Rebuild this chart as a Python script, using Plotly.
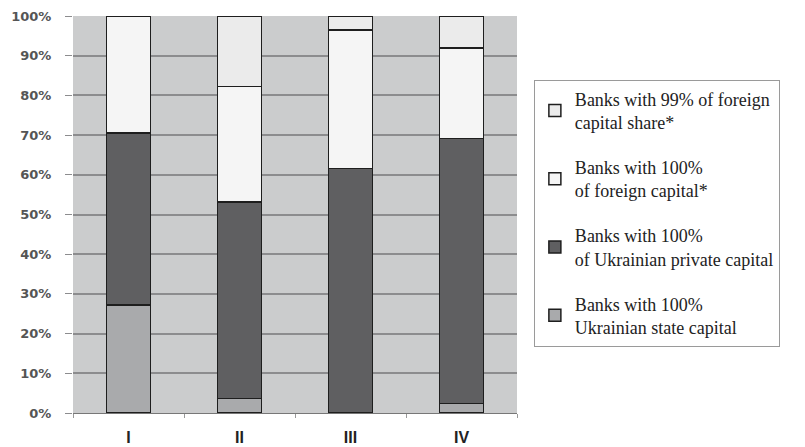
import plotly.graph_objects as go

categories = ["I", "II", "III", "IV"]
state = [27.2, 3.7, 0.0, 2.4]
private = [43.3, 49.5, 61.6, 66.8]
foreign100 = [29.5, 29.0, 34.9, 22.7]
foreign99 = [0.0, 17.8, 3.5, 8.1]

names = [
    "Banks with 100%<br>Ukrainian state capital",
    "Banks with 100%<br>of Ukrainian private capital",
    "Banks with 100%<br>of foreign capital*",
    "Banks with 99% of foreign<br>capital share*",
]
colors = ["#a9aaac", "#5f5f61", "#f5f5f5", "#ebebeb"]
series = [state, private, foreign100, foreign99]

fig = go.Figure()
for i, (nm, col, vals) in enumerate(zip(names, colors, series)):
    fig.add_trace(go.Bar(
        x=categories, y=vals, name=nm, legendgroup=str(i), legendrank=10 - i,
        marker=dict(color=col, line=dict(color="#1e1e1e", width=1.5)),
        width=0.4,
    ))

fig.update_layout(
    barmode="stack",
    width=805, height=447,
    margin=dict(l=65, r=296, t=8, b=42),
    paper_bgcolor="white",
    plot_bgcolor="#cbcccd",
    showlegend=True,
    legend=dict(
        traceorder="grouped", x=1.038, xanchor="left", y=0.84, yanchor="top",
        bordercolor="#9a9a9a", borderwidth=1, bgcolor="white",
        font=dict(family="Liberation Serif", size=18, color="#222222"),
        tracegroupgap=18.5, itemwidth=30,
    ),
    xaxis=dict(
        automargin=False,
        tickfont=dict(family="Liberation Sans", size=16, color="#222222", weight="bold"),
        ticklabelstandoff=10,
        showline=True, linecolor="#777777", linewidth=1,
        ticks="outside", tickson="boundaries", ticklen=4, tickcolor="#999999",
        showgrid=False,
    ),
    yaxis=dict(
        automargin=False,
        range=[0, 100], dtick=10, ticksuffix="%",
        tickfont=dict(family="DejaVu Sans", size=13, color="#555555", weight="bold"),
        ticklabelstandoff=11,
        showgrid=True, gridcolor="#8c8c8e", gridwidth=1.5,
        ticks="outside", ticklen=7, tickcolor="#8c8c8e",
        zeroline=False, showline=False,
    ),
)

fig.write_html("out.html")
